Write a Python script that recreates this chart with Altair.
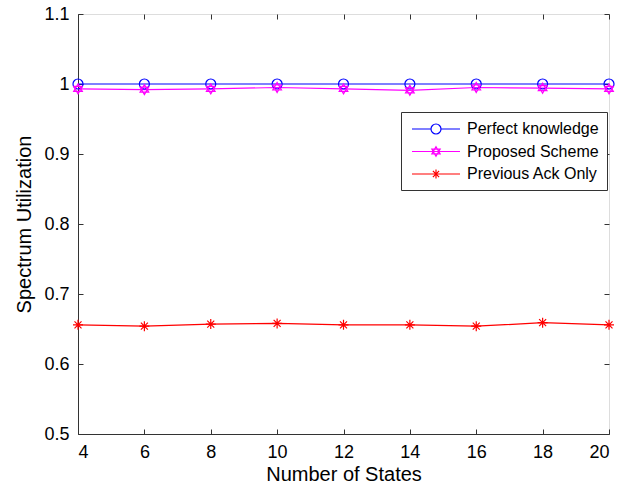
import altair as alt
import pandas as pd

states = [4, 6, 8, 10, 12, 14, 16, 18, 20]
perfect = [1.0, 1.0, 1.0, 1.0, 1.0, 1.0, 1.0, 1.0, 1.0]
proposed = [0.993, 0.992, 0.993, 0.995, 0.993, 0.991, 0.995, 0.994, 0.993]
previous = [0.656, 0.654, 0.657, 0.658, 0.656, 0.656, 0.654, 0.659, 0.656]
series = ["Perfect knowledge", "Proposed Scheme", "Previous Ack Only"]
colors = ["#0000FF", "#FF00FF", "#FF0000"]
yticks = [0.5, 0.6, 0.7, 0.8, 0.9, 1.0, 1.1]

rows = []
for name, vals in zip(series, [perfect, proposed, previous]):
    for s, v in zip(states, vals):
        rows.append({"states": s, "value": v, "series": name})
df = pd.DataFrame(rows)

circle = "M-1,0A1,1 0 1,1 1,0A1,1 0 1,1 -1,0Z"
hexagram = "M0,-1L0.866,0.5L-0.866,0.5ZM0,1L0.866,-0.5L-0.866,-0.5Z"
asterisk = "M-1,0L1,0M0,-1L0,1M-0.7,-0.7L0.7,0.7M-0.7,0.7L0.7,-0.7"

# legend symbols: line + marker (unit = 8px, symbol centre at x=0)
lc = ("M-0.75,0L1.625,0M2.875,0L5.25,0"
      "M1.625,0A0.625,0.625 0 1,1 2.875,0A0.625,0.625 0 1,1 1.625,0Z")
lh = ("M-0.75,0L5.25,0M2.25,-0.6L2.77,0.3L1.73,0.3Z"
      "M2.25,0.6L2.77,-0.3L1.73,-0.3Z")
la = ("M-0.75,0L5.25,0M2.25,-0.55L2.25,0.55"
      "M1.86,-0.39L2.64,0.39M1.86,0.39L2.64,-0.39")

W, H = 531, 420
font = "Liberation Sans"
axc = "#333333"

xscale = alt.Scale(domain=[4, 20], nice=False, zero=False)
yscale = alt.Scale(domain=[0.5, 1.1], nice=False, zero=False)

def cscale():
    return alt.Scale(domain=series, range=colors)

base = alt.Chart(df)

lines = base.mark_line(strokeWidth=1.2).encode(
    x=alt.X("states:Q", scale=xscale,
            axis=alt.Axis(values=states, title="Number of States", grid=False, ticks=False,
                          labelFontSize=18, titleFontSize=20, labelFont=font, titleFont=font,
                          titleFontWeight="normal",
                          labelColor="black", titleColor="black", domainColor=axc,
                          labelPadding=9, titlePadding=3)),
    y=alt.Y("value:Q", scale=yscale,
            axis=alt.Axis(values=yticks, title="Spectrum Utilization", grid=False, ticks=False,
                          labelFontSize=18, titleFontSize=20, labelFont=font, titleFont=font,
                          titleFontWeight="normal",
                          labelColor="black", titleColor="black", domainColor=axc,
                          labelPadding=9, titlePadding=9,
                          labelExpr="toString(round(datum.value*10)/10)")),
    color=alt.Color("series:N", scale=cscale(), legend=None),
)

points = base.mark_point(filled=False, strokeWidth=1.2, size=100, opacity=1).encode(
    x=alt.X("states:Q", scale=xscale,
            axis=alt.Axis(orient="top", offset=-H, values=states, labels=False, title=None,
                          grid=False, domain=False, tickColor=axc, tickSize=5)),
    y=alt.Y("value:Q", scale=yscale,
            axis=alt.Axis(orient="right", offset=-W, values=yticks, labels=False, title=None,
                          grid=False, domain=False, tickColor=axc, tickSize=5)),
    color=alt.Color("series:N", scale=cscale(), legend=None),
    shape=alt.Shape("series:N", scale=alt.Scale(domain=series, range=[circle, hexagram, asterisk]),
                    legend=None),
)

legend = alt.Legend(title=None, orient="none", legendX=323, legendY=98,
                    strokeColor=axc, fillColor="white", padding=8,
                    symbolSize=256, labelFontSize=16, labelFont=font,
                    labelColor="black", rowPadding=5.5, labelOffset=40,
                    symbolStrokeWidth=1.2, symbolOpacity=1)

legend_layer = base.mark_point(filled=False, opacity=0).encode(
    x=alt.X("states:Q", scale=xscale,
            axis=alt.Axis(orient="bottom", offset=-H, values=states, labels=False, title=None,
                          grid=False, domain=False, tickColor=axc, tickSize=5)),
    y=alt.Y("value:Q", scale=yscale,
            axis=alt.Axis(orient="left", offset=-W, values=yticks, labels=False, title=None,
                          grid=False, domain=False, tickColor=axc, tickSize=5)),
    color=alt.Color("series:N", scale=cscale(), legend=legend),
    shape=alt.Shape("series:N", scale=alt.Scale(domain=series, range=[lc, lh, la]),
                    legend=legend),
)

chart = alt.layer(lines, points, legend_layer).resolve_axis(
    x="independent", y="independent"
).resolve_scale(color="independent", shape="independent").properties(
    width=W, height=H,
    autosize=alt.AutoSizeParams(type="none"),
    padding={"left": 78, "top": 14, "right": 23, "bottom": 56},
).configure_view(stroke=axc, strokeWidth=1).configure(background="white")

chart.save("out.html", embed_options={"renderer": "svg", "actions": False})
